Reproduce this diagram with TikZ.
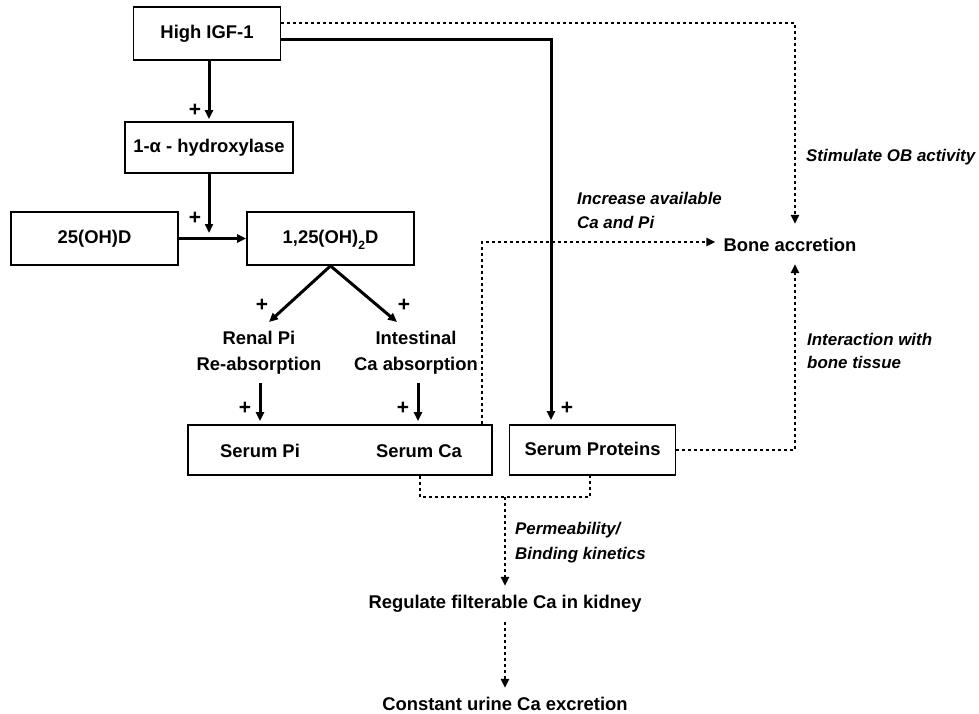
\documentclass[tikz,border=0pt]{standalone}
\usepackage{fontspec}
\setmainfont{Liberation Sans}
\usetikzlibrary{arrows.meta}
\begin{document}
\begin{tikzpicture}[x=1pt,y=-1pt,
  box/.style={draw, line width=1.8pt, inner sep=0pt},
  txt/.style={font=\fontsize{18.4}{26}\selectfont\bfseries, inner sep=0pt, text height=14pt, text depth=4pt},
  lab/.style={font=\fontsize{16.9}{24}\selectfont\bfseries\itshape, inner sep=0pt, anchor=west, align=left},
  plus/.style={font=\fontsize{21}{22}\selectfont\bfseries, inner sep=0pt},
  solidarr/.style={line width=3pt, -{Triangle[length=9pt,width=8pt]}},
  dotline/.style={line width=2.7pt, dash pattern=on 2.7pt off 3.3pt},
  dotarr/.style={dotline, -{Triangle[length=9pt,width=8pt]}}]
\useasboundingbox (0,0) rectangle (979,714);

% boxes
\node[box, txt, minimum width=147pt, minimum height=53pt] (igf) at (207,33.5) {High IGF-1};
\node[box, txt, minimum width=168pt, minimum height=51pt] (hyd) at (209,147.5) {1-α - hydroxylase};
\node[box, txt, minimum width=167pt, minimum height=53pt] (d25) at (94.5,238.5) {25(OH)D};
\node[box, txt, minimum width=167pt, minimum height=53pt] (d125) at (330.5,238.5) {1,25(OH)\raisebox{-0.3em}{\fontsize{12}{12}\selectfont 2}D};
\node[box, minimum width=304pt, minimum height=50pt] (serum) at (340,450) {};
\node[txt] (spi) at (260,452) {Serum Pi};
\node[txt] (sca) at (419,452) {Serum Ca};
\node[box, txt, minimum width=166pt, minimum height=50pt] (sprot) at (592.5,450) {Serum Proteins};

% plain texts
\node[txt, align=center, text height=, text depth=] (renal) at (259,353) {Renal Pi\\Re-absorption};
\node[txt, align=center, text height=, text depth=] (intest) at (416,353) {Intestinal\\Ca absorption};
\node[txt, inner sep=0pt, minimum height=40pt, text height=14pt, text depth=0pt] (bone) at (790,244) {Bone accretion};
\node[txt] (reg) at (505,603) {Regulate filterable Ca in kidney};
\node[txt] (const) at (505,705) {Constant urine Ca excretion};

% italic labels
\node[lab] (l1) at (806,157) {Stimulate OB activity};
\node[lab] (l2) at (577,210) {Increase available\\Ca and Pi};
\node[lab, font=\fontsize{16.9}{23}\selectfont\bfseries\itshape] (l3) at (807,351) {Interaction with\\bone tissue};
\node[lab, font=\fontsize{16.9}{25}\selectfont\bfseries\itshape] (l4) at (515,543) {Permeability/\\Binding kinetics};

% plus signs
\node[plus] (p1) at (195,110) {+};
\node[plus] (p2) at (195,218) {+};
\node[plus] (p3) at (262,305) {+};
\node[plus] (p4) at (404,305) {+};
\node[plus] (p5) at (245,408) {+};
\node[plus] (p6) at (403,408) {+};
\node[plus] (p7) at (567,408) {+};

% helper coordinates
\coordinate (j1) at (209,238);
\coordinate (t1) at (269,322);
\coordinate (t2) at (397,322);
\coordinate (k1) at (551,40);
\coordinate (k2) at (795,23);
\coordinate (k3) at (482,242);
\coordinate (k4) at (795,450);
\coordinate (k5) at (420,497);
\coordinate (k6) at (590,497);
\coordinate (k7) at (505,497);

% solid connectors
\draw[solidarr, shorten >=2pt] (igf.south -| hyd.north) -- (hyd.north);
\draw[solidarr, shorten >=5pt] (hyd.south) -- (j1);
\draw[solidarr] (d25.east) -- (d125.west);
\draw[solidarr] (d125.south) -- (t1);
\draw[solidarr] (d125.south) -- (t2);
\draw[solidarr, shorten <=8pt, shorten >=3pt] (renal.south -| 260,0) -- (serum.north -| 260,0);
\draw[solidarr, shorten <=8pt, shorten >=3pt] (intest.south -| 418,0) -- (serum.north -| 418,0);
\draw[solidarr, shorten >=4pt] (igf.east |- k1) -- (k1) -- (k1 |- sprot.north);

% dotted connectors
\draw[dotarr] (igf.east |- k2) -- (k2) -- (k2 |- bone.north);
\draw[dotarr, shorten >=8pt] (serum.north -| k3) -- (k3) -- (bone.west |- k3);
\draw[dotarr] (sprot.east |- k4) -- (k4) -- (k4 |- bone.south);
\draw[dotline] (serum.south -| k5) -- (k5) -- (k6) -- (sprot.south -| k6);
\draw[dotarr, shorten >=8pt] (k7) -- (reg.north);
\draw[dotarr, shorten <=10pt, shorten >=8pt] (reg.south) -- (const.north);
\end{tikzpicture}
\end{document}
